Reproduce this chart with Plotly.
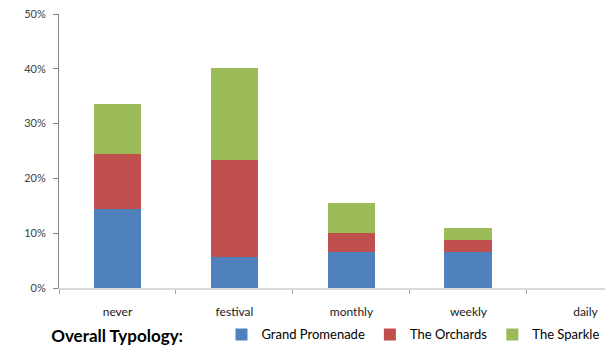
import plotly.graph_objects as go

# Visit frequency categories
categories = ["never", "festival", "monthly", "weekly", "daily"]

# Share of respondents per typology (fractions of total)
grand_promenade = [0.145, 0.056, 0.066, 0.066, 0.0]
the_orchards = [0.100, 0.178, 0.034, 0.022, 0.0]
the_sparkle = [0.090, 0.167, 0.056, 0.022, 0.0]

series = [
    ("Grand Promenade", grand_promenade, "#4f81bd"),
    ("The Orchards", the_orchards, "#c0504d"),
    ("The Sparkle", the_sparkle, "#9bbb59"),
]

fig = go.Figure()
for name, values, color in series:
    fig.add_trace(go.Bar(
        x=categories,
        y=values,
        name=name,
        marker=dict(color=color, line=dict(width=0)),
        width=0.41,
    ))

fig.update_layout(
    barmode="stack",
    width=613,
    height=346,
    margin=dict(l=59, r=8, t=14, b=58, autoexpand=False),
    paper_bgcolor="white",
    plot_bgcolor="white",
    font=dict(family="Lato, Liberation Sans, sans-serif", color="#000000"),
    legend=dict(
        orientation="h",
        x=-0.018,
        xanchor="left",
        y=-0.175,
        yanchor="middle",
        font=dict(size=13, color="#000000"),
        title=dict(
            text="<b>Overall Typology:</b>" + "&nbsp;" * 7,
            side="left",
            font=dict(size=17, color="#000000"),
        ),
        itemwidth=30,
        traceorder="normal",
    ),
)

fig.update_xaxes(
    type="category",
    categoryorder="array",
    categoryarray=categories,
    range=[-0.5, 4.167],
    showline=True,
    linecolor="#d9d9d9",
    linewidth=1.5,
    ticks="outside",
    tickson="boundaries",
    ticklen=4,
    tickcolor="#a0a0a0",
    ticklabelstandoff=12,
    tickfont=dict(size=12, color="#1a1a1a"),
    showgrid=False,
    zeroline=False,
)

fig.update_yaxes(
    range=[0, 0.5],
    dtick=0.1,
    tickformat=".0%",
    showline=True,
    linecolor="#868686",
    linewidth=1,
    ticks="outside",
    ticklen=5,
    tickcolor="#868686",
    ticklabelstandoff=5,
    tickfont=dict(size=11, color="#404040"),
    showgrid=False,
    zeroline=False,
)

fig.write_html("out.html")
